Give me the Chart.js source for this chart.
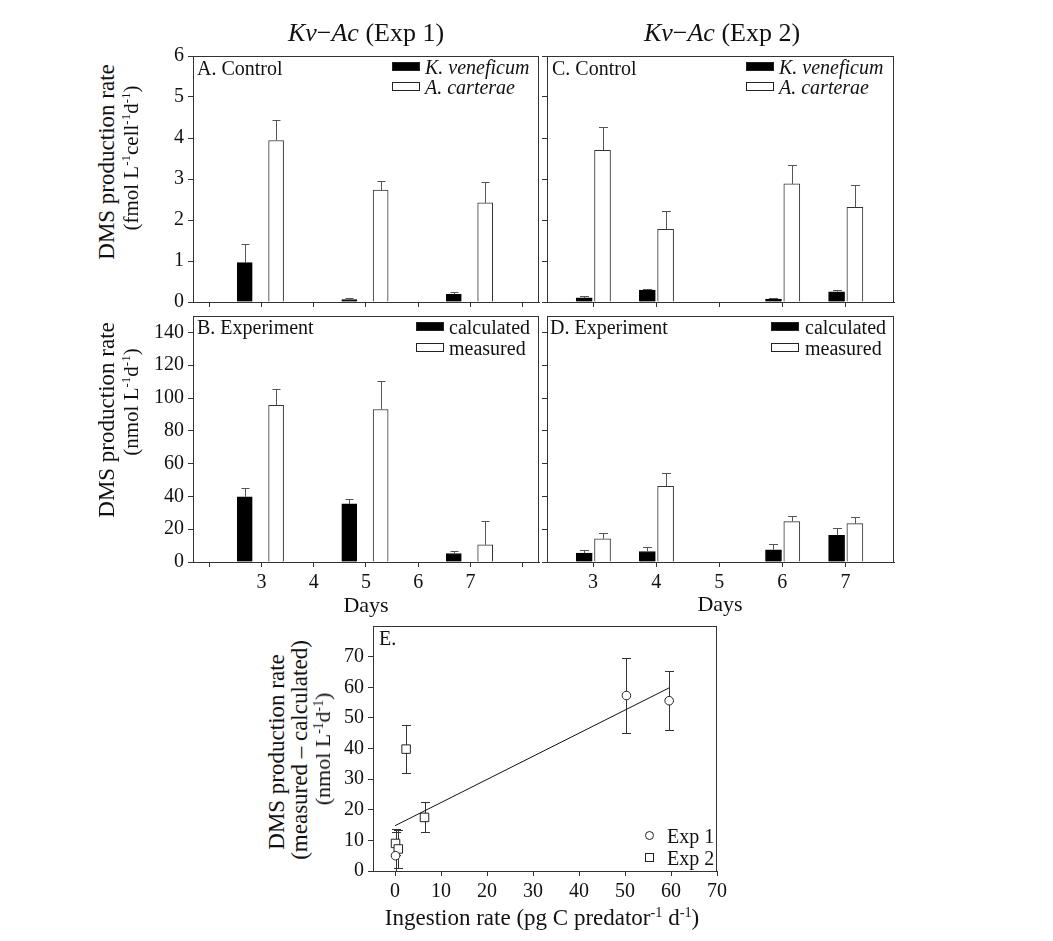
<!DOCTYPE html>
<html><head><meta charset="utf-8">
<script src="https://cdn.jsdelivr.net/npm/chart.js@4.4.1/dist/chart.umd.min.js"></script>
<style>
body{margin:0;background:#fff;}
#wrap{position:relative;width:1053px;height:941px;overflow:hidden;font-family:"Liberation Serif","Times New Roman",serif;color:#111;background:#fff;}
canvas{position:absolute;}
.t{position:absolute;white-space:nowrap;line-height:1;}
.c{transform:translate(-50%,-50%);}
.l{transform:translate(0,-50%);}
.r{transform:translate(-50%,-50%) rotate(-90deg);}
sup{font-size:0.62em;line-height:0;vertical-align:0.55em;}
.sw{position:absolute;width:28px;height:9px;box-sizing:border-box;border:1px solid #222;}
</style></head>
<body><div id="wrap">
<canvas id="cA"></canvas><canvas id="cB"></canvas><canvas id="cC"></canvas><canvas id="cD"></canvas><canvas id="cE"></canvas>

<div class="t c" style="left:366px;top:33px;font-size:26px;"><i>Kv</i>−<i>Ac</i> (Exp 1)</div>
<div class="t c" style="left:722px;top:33px;font-size:26px;"><i>Kv</i>−<i>Ac</i> (Exp 2)</div>

<div class="t r" style="left:106px;top:162px;font-size:23px;">DMS production rate</div>
<div class="t r" style="left:131px;top:158px;font-size:21px;">(fmol L<sup>-1</sup>cell<sup>-1</sup>d<sup>-1</sup>)</div>
<div class="t r" style="left:106px;top:420px;font-size:23px;">DMS production rate</div>
<div class="t r" style="left:131px;top:402px;font-size:21px;">(nmol L<sup>-1</sup>d<sup>-1</sup>)</div>
<div class="t r" style="left:276px;top:752px;font-size:23px;">DMS production rate</div>
<div class="t r" style="left:299px;top:750px;font-size:23px;">(measured – calculated)</div>
<div class="t r" style="left:323px;top:749px;font-size:22px;">(nmol L<sup>-1</sup>d<sup>-1</sup>)</div>

<div class="t c" style="left:366px;top:605px;font-size:22px;">Days</div>
<div class="t c" style="left:720px;top:604px;font-size:22px;">Days</div>
<div class="t c" style="left:542px;top:917px;font-size:23px;">Ingestion rate (pg C predator<sup>-1</sup> d<sup>-1</sup>)</div>

<div class="t l" style="left:197px;top:68px;font-size:20px;">A. Control</div>
<div class="t l" style="left:552px;top:68px;font-size:20px;">C. Control</div>
<div class="t l" style="left:197px;top:327px;font-size:20px;">B. Experiment</div>
<div class="t l" style="left:550px;top:327px;font-size:20px;">D. Experiment</div>
<div class="t l" style="left:379px;top:638px;font-size:20px;">E.</div>

<div class="sw" style="left:392px;top:62px;background:#000;"></div>
<div class="t l" style="left:425px;top:67px;font-size:20px;font-style:italic;">K. veneficum</div>
<div class="sw" style="left:392px;top:82px;background:#fff;"></div>
<div class="t l" style="left:425px;top:87px;font-size:20px;font-style:italic;">A. carterae</div>

<div class="sw" style="left:746px;top:62px;background:#000;"></div>
<div class="t l" style="left:779px;top:67px;font-size:20px;font-style:italic;">K. veneficum</div>
<div class="sw" style="left:746px;top:82px;background:#fff;"></div>
<div class="t l" style="left:779px;top:87px;font-size:20px;font-style:italic;">A. carterae</div>

<div class="sw" style="left:416px;top:322px;background:#000;"></div>
<div class="t l" style="left:449px;top:327px;font-size:20px;">calculated</div>
<div class="sw" style="left:416px;top:343px;background:#fff;"></div>
<div class="t l" style="left:449px;top:348px;font-size:20px;">measured</div>

<div class="sw" style="left:771px;top:322px;background:#000;"></div>
<div class="t l" style="left:805px;top:327px;font-size:20px;">calculated</div>
<div class="sw" style="left:771px;top:343px;background:#fff;"></div>
<div class="t l" style="left:805px;top:348px;font-size:20px;">measured</div>

<div style="position:absolute;left:645px;top:831px;width:9px;height:9px;box-sizing:border-box;border:1px solid #222;border-radius:50%;"></div>
<div class="t l" style="left:667px;top:836px;font-size:20px;">Exp 1</div>
<div style="position:absolute;left:645px;top:853px;width:9px;height:9px;box-sizing:border-box;border:1px solid #222;"></div>
<div class="t l" style="left:667px;top:858px;font-size:20px;">Exp 2</div>
</div>
<script>
// ---------- data ----------
const daysExp1 = [3, 5, 7];
const ctrlKv1 = [0.96, 0.06, 0.19];
const ctrlKv1Err = [0.45, 0.04, 0.05];
const ctrlAc1 = [3.94, 2.73, 2.42];
const ctrlAc1Err = [0.49, 0.22, 0.50];
const calc1 = [39.7, 35.4, 5.2];
const calc1Err = [5.2, 3.3, 1.4];
const meas1 = [95.5, 93.0, 10.5];
const meas1Err = [10.2, 17.4, 14.3];

const daysExp2 = [3, 4, 6, 7];
const ctrlKv2 = [0.10, 0.29, 0.07, 0.25];
const ctrlKv2Err = [0.05, 0.03, 0.02, 0.04];
const ctrlAc2 = [3.70, 1.77, 2.88, 2.31];
const ctrlAc2Err = [0.56, 0.45, 0.46, 0.55];
const calc2 = [5.4, 6.4, 7.4, 16.2];
const calc2Err = [1.8, 2.6, 3.4, 4.4];
const meas2 = [14.2, 46.2, 24.6, 23.4];
const meas2Err = [3.4, 7.8, 3.6, 4.0];

const ingestExp1 = [50.3, 59.6, 0.1];
const diffExp1 = [57.3, 55.6, 5.0];
const diffExp1Err = [12.2, 9.6, 8.8];
const ingestExp2 = [0.1, 2.4, 6.4, 0.7];
const diffExp2 = [9.0, 39.8, 17.5, 7.2];
const diffExp2Err = [3.8, 7.9, 4.9, 6.2];
const fitLineX = [0, 59.6];
const fitLineY = [14.8, 59.8];

const dayTicks1 = [2, 3, 4, 5, 6, 7, 8];
const dayTicks2 = [3, 4, 5, 6, 7];
const dayLabels = [3, 4, 5, 6, 7];
const ctrlTicks = [0, 1, 2, 3, 4, 5, 6];
const expTicks = [0, 20, 40, 60, 80, 100, 120, 140];
const eXTicks = [0, 10, 20, 30, 40, 50, 60, 70];
const eYTicks = [0, 10, 20, 30, 40, 50, 60, 70];

// ---------- helpers ----------
const FONT = "'Liberation Serif','Times New Roman',serif";
const AX = '#333';

const framePlugin = {
  id: 'frame',
  afterDraw(chart) {
    const a = chart.chartArea, ctx = chart.ctx;
    ctx.save();
    ctx.strokeStyle = AX; ctx.lineWidth = 1;
    ctx.strokeRect(Math.round(a.left) + 0.5, Math.round(a.top) + 0.5, Math.round(a.right - a.left) - 1, Math.round(a.bottom - a.top));
    ctx.restore();
  }
};

function drawErr(chart, both) {
  const ctx = chart.ctx, xs = chart.scales.x, ys = chart.scales.y, a = chart.chartArea;
  ctx.save();
  ctx.beginPath(); ctx.rect(a.left, a.top - 1, a.right - a.left, a.bottom - a.top + 1); ctx.clip();
  chart.data.datasets.forEach(ds => {
    if (!ds.errors) return;
    ctx.strokeStyle = ds.errColor || '#444'; ctx.lineWidth = 1;
    const cap = ds.capWidth || 8;
    ds.data.forEach((p, i) => {
      const e = ds.errors[i];
      const x = Math.round(xs.getPixelForValue(p.x)) + 0.5;
      const yT = Math.round(ys.getPixelForValue(p.y + e)) + 0.5;
      const yB = both ? Math.round(ys.getPixelForValue(p.y - e)) + 0.5 : ys.getPixelForValue(p.y);
      ctx.beginPath();
      ctx.moveTo(x, yB); ctx.lineTo(x, yT);
      ctx.moveTo(x - cap / 2, yT); ctx.lineTo(x + cap / 2, yT);
      if (both) { ctx.moveTo(x - cap / 2, yB); ctx.lineTo(x + cap / 2, yB); }
      ctx.stroke();
    });
  });
  ctx.restore();
}
const barErrPlugin = { id: 'barErr', afterDatasetsDraw(chart) { drawErr(chart, false); } };
const ptErrPlugin = { id: 'ptErr', beforeDatasetsDraw(chart) { drawErr(chart, true); } };

function axis(min, max, tickVals, labelFn) {
  return {
    type: 'linear', min, max, offset: false,
    afterBuildTicks: s => { s.ticks = tickVals.map(v => ({ value: v })); },
    ticks: { callback: labelFn, color: '#111', font: { family: FONT, size: 20 }, padding: 4, autoSkip: false, maxRotation: 0, minRotation: 0 },
    grid: { drawOnChartArea: false, drawTicks: true, tickLength: 5, color: AX, lineWidth: 1, offset: false },
    border: { display: true, color: AX, width: 1 }
  };
}

function make(id, rect, area, type, data, xAxis, yAxis, plugins) {
  const cv = document.getElementById(id);
  cv.width = rect.w; cv.height = rect.h;
  cv.style.left = rect.x + 'px'; cv.style.top = rect.y + 'px';
  cv.style.width = rect.w + 'px'; cv.style.height = rect.h + 'px';
  const xH = rect.y + rect.h - area.bottom, yW = area.left - rect.x;
  xAxis.afterFit = s => { s.height = xH; };
  yAxis.afterFit = s => { s.width = yW; };
  return new Chart(cv, {
    type, data,
    options: {
      responsive: false, animation: false, devicePixelRatio: 1,
      layout: { padding: { top: area.top - rect.y, right: rect.x + rect.w - area.right, left: 0, bottom: 0 } },
      plugins: { legend: { display: false }, tooltip: { enabled: false } },
      scales: { x: xAxis, y: yAxis }
    },
    plugins: [framePlugin].concat(plugins)
  });
}

function barSet(days, vals, errs, offset, dark, thick, cap) {
  return {
    data: days.map((d, i) => ({ x: d + offset, y: vals[i] })),
    errors: errs,
    backgroundColor: dark ? '#000' : '#fff',
    borderColor: dark ? '#000' : '#333',
    borderWidth: 1,
    barThickness: thick,
    grouped: false,
    errColor: '#555',
    capWidth: cap
  };
}

const none = () => '';
const dayLbl = v => dayLabels.includes(v) ? String(v) : '';

// Panel A
make('cA', { x: 140, y: 40, w: 410, h: 290 }, { left: 193, top: 53, right: 539, bottom: 302 }, 'bar',
  { datasets: [barSet(daysExp1, ctrlKv1, ctrlKv1Err, -0.32, true, 15, 8), barSet(daysExp1, ctrlAc1, ctrlAc1Err, 0.28, false, 15, 8)] },
  axis(1.69, 8.31, dayTicks1, none), axis(0, 6, ctrlTicks, v => String(v)), [barErrPlugin]);

// Panel B
make('cB', { x: 140, y: 300, w: 410, h: 300 }, { left: 193, top: 313, right: 539, bottom: 562 }, 'bar',
  { datasets: [barSet(daysExp1, calc1, calc1Err, -0.32, true, 15, 8), barSet(daysExp1, meas1, meas1Err, 0.28, false, 15, 8)] },
  axis(1.69, 8.31, dayTicks1, dayLbl), axis(0, 150, expTicks, v => String(v)), [barErrPlugin]);

// Panel C
make('cC', { x: 520, y: 40, w: 390, h: 290 }, { left: 547, top: 53, right: 894, bottom: 302 }, 'bar',
  { datasets: [barSet(daysExp2, ctrlKv2, ctrlKv2Err, -0.14, true, 16, 9), barSet(daysExp2, ctrlAc2, ctrlAc2Err, 0.15, false, 16, 9)] },
  axis(2.27, 7.77, dayTicks2, none), axis(0, 6, ctrlTicks, none), [barErrPlugin]);

// Panel D
make('cD', { x: 520, y: 300, w: 390, h: 300 }, { left: 547, top: 313, right: 894, bottom: 562 }, 'bar',
  { datasets: [barSet(daysExp2, calc2, calc2Err, -0.14, true, 16, 9), barSet(daysExp2, meas2, meas2Err, 0.15, false, 16, 9)] },
  axis(2.27, 7.77, dayTicks2, dayLbl), axis(0, 150, expTicks, none), [barErrPlugin]);

// Panel E
make('cE', { x: 320, y: 610, w: 420, h: 300 }, { left: 373, top: 623, right: 717, bottom: 871 }, 'scatter',
  { datasets: [
    { data: fitLineX.map((x, i) => ({ x, y: fitLineY[i] })), showLine: true, borderColor: '#111', borderWidth: 1, pointRadius: 0, fill: false },
    { data: ingestExp1.map((x, i) => ({ x, y: diffExp1[i] })), errors: diffExp1Err, errColor: '#333', capWidth: 9,
      pointStyle: 'circle', pointRadius: 4.3, backgroundColor: '#fff', borderColor: '#222', borderWidth: 1 },
    { data: ingestExp2.map((x, i) => ({ x, y: diffExp2[i] })), errors: diffExp2Err, errColor: '#333', capWidth: 9,
      pointStyle: 'rect', pointRadius: 6, backgroundColor: '#fff', borderColor: '#222', borderWidth: 1 }
  ] },
  axis(-4.8, 70, eXTicks, v => String(v)), axis(0, 80, eYTicks, v => String(v)), [ptErrPlugin]);
</script>
</body></html>
